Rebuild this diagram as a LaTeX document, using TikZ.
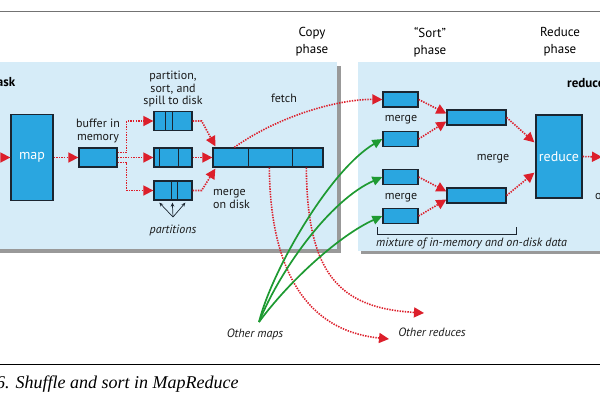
\documentclass[tikz,border=0pt]{standalone}
\usepackage{fontspec}
\setmainfont{PT Sans}
\newfontfamily\capfont{Liberation Serif}
\usetikzlibrary{arrows.meta,calc}
\definecolor{panel}{HTML}{D6ECF8}
\definecolor{boxc}{HTML}{2AA6E0}
\definecolor{edgec}{HTML}{1B2530}
\definecolor{rd}{HTML}{DC1F2B}
\definecolor{gr}{HTML}{1E9A32}
\tikzset{
  box/.style={draw=edgec, line width=1.3pt, fill=boxc, inner sep=0pt},
  rarrow/.style={draw=rd, line width=1.6pt, dash pattern=on 1.4pt off 1.2pt, -{Triangle[length=10pt,width=10pt]}},
  garrow/.style={draw=gr, line width=1.7pt, -{Triangle[length=10pt,width=9pt]}},
  karrow/.style={draw=edgec, line width=0.7pt, -{Stealth[length=4pt,width=3.5pt]}},
  lab/.style={font=\fontsize{12}{12.5}\selectfont, align=center, inner sep=0pt, text=black!90},
  ilab/.style={font=\itshape\fontsize{12}{12.5}\selectfont, align=center, inner sep=0pt, text=black!90},
  phase/.style={font=\fontsize{13}{17}\selectfont, align=center, inner sep=0pt, text=black},
  inbox/.style={font=\fontsize{14}{14}\selectfont, text=white}
}
\begin{document}
\begin{tikzpicture}[x=1pt,y=-1pt]
\useasboundingbox (0,0) rectangle (600,400);
% rules
\draw[black!55, line width=0.8pt] (0,11) -- (600,11);
\draw[black, line width=0.8pt] (0,364) -- (600,364);
% panels with shadows
\fill[black!40] (-5,66) rectangle (341,253);
\fill[panel] (-5,62) rectangle (337,249);
\fill[black!40] (361,66) rectangle (614,254);
\fill[panel] (358,62) rectangle (610,251);
% titles
\node[font=\bfseries\fontsize{13}{13}\selectfont, anchor=east, inner sep=0pt] (mt) at (15.5,83) {map task};
\node[font=\bfseries\fontsize{13}{13}\selectfont, anchor=west, inner sep=0pt] (rt) at (567,83) {reduce task};
\node[phase] (cp) at (312,42) {Copy\\phase};
\node[phase] (sp) at (430,42) {“Sort”\\phase};
\node[phase] (rp) at (560,42) {Reduce\\phase};
% map side boxes
\node[box, minimum width=42pt, minimum height=86pt] (map) at (32,157.5) {};
\node[inbox] at (map.center) {map};
\node[box, minimum width=38pt, minimum height=19pt] (buf) at (98,157.5) {};
\node[box, minimum width=38pt, minimum height=19pt] (sp1) at (173,121) {};
\node[box, minimum width=38pt, minimum height=19pt] (sp2) at (173,157.5) {};
\node[box, minimum width=38pt, minimum height=19pt] (sp3) at (173,190.5) {};
\node[box, minimum width=110pt, minimum height=19pt] (mod) at (268,157.5) {};
\foreach \n/\a/\b in {sp1/12/19, sp2/6/25, sp3/18/24, mod/36/80} {
  \draw[edgec, line width=1.3pt] ($(\n.north west)+(\a,0)$) -- ($(\n.south west)+(\a,0)$);
  \draw[edgec, line width=1.3pt] ($(\n.north west)+(\b,0)$) -- ($(\n.south west)+(\b,0)$);
}
% labels map side
\node[lab] (bl) at (98,131) {buffer in\\memory};
\node[lab] (pl) at (173,89) {partition,\\sort, and\\spill to disk};
\node[ilab] (parts) at (173,230) {partitions};
\node[lab, align=left, anchor=west] (ml) at (213,199) {merge\\on disk};
\node[lab] (fl) at (284,98) {fetch};
% map side arrows
\coordinate (inL) at (-12,157.5);
\draw[rarrow] (inL) -- (map.west);
\draw[rarrow] (map.east) -- (buf.west);
\draw[rarrow] ([yshift=5pt]buf.east) -- ++(9,0) |- (sp1.west);
\draw[rarrow] (buf.east) -- (sp2.west);
\draw[rarrow] ([yshift=-5pt]buf.east) -- ++(9,0) |- (sp3.west);
\draw[rarrow] (sp1.east) -- ++(9,0) -- ($(mod.north west)+(3,-1)$);
\draw[rarrow] (sp2.east) -- (mod.west);
\draw[rarrow] (sp3.east) -- ++(9,0) -- ($(mod.south west)+(3,1)$);
\coordinate (pt) at (173,217);
\draw[karrow] (pt) -- ($(sp3.south west)+(6,2)$);
\draw[karrow] (pt) -- ($(sp3.south west)+(19,2)$);
\draw[karrow] (pt) -- ($(sp3.south west)+(32,2)$);
% reduce side boxes
\node[box, minimum width=35pt, minimum height=15pt] (A) at (400.5,99.5) {};
\node[box, minimum width=35pt, minimum height=15pt] (B) at (400.5,139) {};
\node[box, minimum width=35pt, minimum height=15pt] (C) at (400.5,177) {};
\node[box, minimum width=35pt, minimum height=15pt] (D) at (400.5,216) {};
\node[box, minimum width=59pt, minimum height=15pt] (E) at (476.5,117.5) {};
\node[box, minimum width=59pt, minimum height=15pt] (F) at (476.5,195.5) {};
\node[box, minimum width=46pt, minimum height=83pt] (red) at (559,156.5) {};
\node[inbox] at (red.center) {reduce};
\node[lab] (m1) at (401,120) {merge};
\node[lab] (m2) at (401,198) {merge};
\node[lab] (m3) at (493,159) {merge};
\node[lab, anchor=west] (outl) at (595,197) {output};
\draw[edgec, line width=0.8pt] (377,227) -- (377,234) -- (516,234) -- (516,227);
\node[ilab, anchor=west] (mix) at (376,243) {mixture of in-memory and on-disk data};
% reduce side arrows
\draw[rarrow] (A.east) -- ($(E.west)+(0,-4)$);
\draw[rarrow] (B.east) -- ($(E.west)+(0,4)$);
\draw[rarrow] (C.east) -- ($(F.west)+(0,-4)$);
\draw[rarrow] (D.east) -- ($(F.west)+(0,4)$);
\draw[rarrow] (E.east) -- ($(red.north west)+(-1,28)$);
\draw[rarrow] (F.east) -- ($(red.south west)+(-1,-26)$);
\coordinate (outR) at (602,157);
\draw[rarrow] (red.east) -- (outR);
% fetch
\draw[rarrow] ($(mod.north west)+(22,0)$) .. controls (280,115) and (340,99) .. (A.west);
% other reduces
\node[ilab] (orl) at (432,332) {Other reduces};
\coordinate (or1) at (389,339);
\coordinate (or2) at (424,313);
\draw[rarrow] ($(mod.south west)+(57,0)$) .. controls (270,260) and (300,330) .. (or1);
\draw[rarrow] ($(mod.south west)+(94,0)$) .. controls (307,275) and (340,308) .. (or2);
% other maps
\node[ilab] (oml) at (255,334) {Other maps};
\coordinate (om) at (259,322);
\draw[garrow] (om) .. controls (272,270) and (330,170) .. (B.west);
\draw[garrow] (om) .. controls (280,270) and (330,200) .. (C.west);
\draw[garrow] (om) .. controls (290,280) and (340,235) .. (D.west);
% caption
\node[anchor=base west, inner sep=0pt, font=\capfont\itshape\fontsize{18}{18}\selectfont] (cap) at (-4,388) {6. Shuffle and sort in MapReduce};
\end{tikzpicture}
\end{document}
